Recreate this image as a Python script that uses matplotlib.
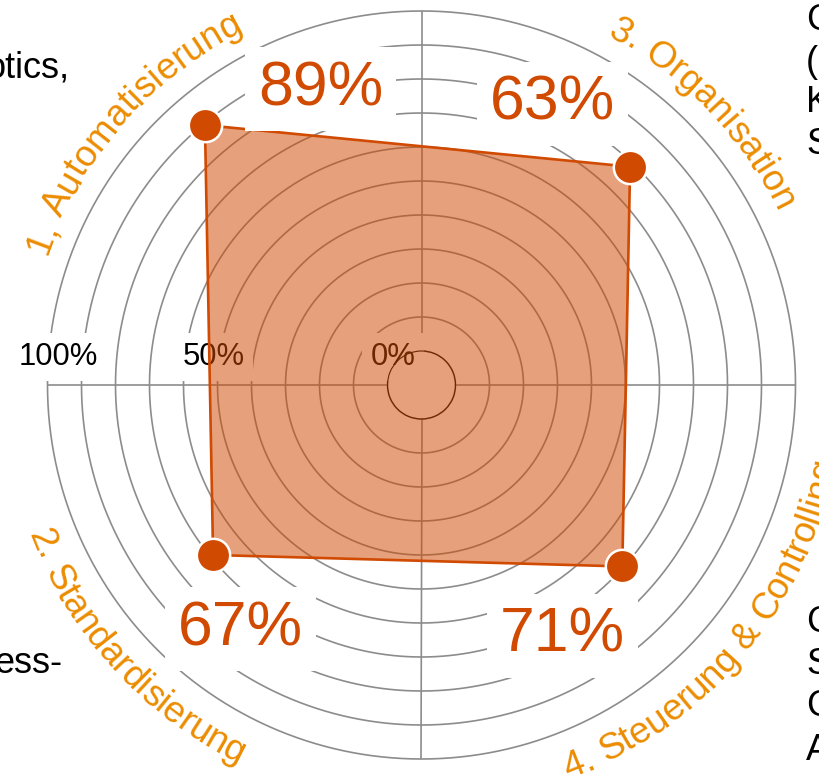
import numpy as np
import matplotlib
matplotlib.use("Agg")
import matplotlib.pyplot as plt
from matplotlib.font_manager import FontProperties, findfont, get_font

# ---------------- data ----------------
categories = ["1, Automatisierung", "2. Standardisierung",
              "3. Organisation", "4. Steuerung & Controlling"]
value_labels = ["89%", "67%", "63%", "71%"]
# marker positions as drawn in the picture (angle in degrees, value on the 0-100 scale)
point_angles_deg = [129.8, 219.2, 46.3, 317.9]
point_values = [89.5, 69.1, 78.8, 69.6]
ring_values = [0, 10, 20, 30, 40, 50, 60, 70, 80, 90, 100]
axis_tick_labels = ["100%", "50%", "0%"]
axis_angles_deg = [0, 90, 180, 270]

# ---------------- style / layout ----------------
FONT = "Liberation Sans"
W, H, DPI = 820, 774, 100
ORANGE = "#D04A02"
LABEL_ORANGE = "#EB8C00"
GRID = "#8c8c8c"
cx, cy, R_OUT = 421.5, 385.0, 374.0      # pixels (y from top)
ORIGIN = 10.0                              # rorigin offset in value units
PX_PER_UNIT = R_OUT / (100 + ORIGIN)

fig = plt.figure(figsize=(W / DPI, H / DPI), dpi=DPI)
fig.patch.set_facecolor("white")
ax = fig.add_axes([(cx - R_OUT) / W, (H - cy - R_OUT) / H, 2 * R_OUT / W, 2 * R_OUT / H],
                  projection="polar")
ax.set_rorigin(-ORIGIN)
ax.set_ylim(0, 100)
ax.set_xticks([])
ax.set_yticks([])
ax.grid(False)
for sp in ax.spines.values():
    sp.set_visible(False)
ax.patch.set_alpha(0)

# rings
theta_c = np.linspace(0, 2 * np.pi, 721)
for v in ring_values:
    ax.plot(theta_c, np.full_like(theta_c, v), color=GRID, lw=1.2, zorder=1,
            solid_capstyle="butt", clip_on=False)
# axis lines
for a in axis_angles_deg:
    ax.plot([np.radians(a), np.radians(a)], [0, 100], color=GRID, lw=1.2, zorder=1)

# axis labels (below the fill, with white background hiding rings)
axis_label_pos = [(58.0, 365.0), (213.3, 365.0), (393.0, 365.0)]
for s, (x, y) in zip(axis_tick_labels, axis_label_pos):
    ax.text(x / W, 1 - y / H, s, transform=fig.transFigure, ha="center", va="baseline",
            fontsize=22.3, family=FONT, color="black", zorder=2, clip_on=False,
            bbox=dict(boxstyle="square,pad=0.28", fc="white", ec="none"))

# polygon
order = np.argsort(point_angles_deg)
th = np.radians(np.array(point_angles_deg)[order])
rv = np.array(point_values)[order]
th_c = np.append(th, th[0])
rv_c = np.append(rv, rv[0])
ax.fill(th_c, rv_c, color=ORANGE, alpha=0.52, lw=0, zorder=3, clip_on=False)
ax.plot(th_c, rv_c, color=ORANGE, lw=1.9, zorder=4, clip_on=False)
ax.plot(np.radians(point_angles_deg), point_values, "o", ms=24, mfc=ORANGE,
        mec="white", mew=1.8, zorder=5, clip_on=False)

# value labels (center x, baseline y) in pixels
value_label_pos = [(320.5, 105.0), (240.5, 645.0), (552.5, 120.0), (562.5, 652.0)]
for s, (x, y) in zip(value_labels, value_label_pos):
    ax.text(x / W, 1 - y / H, s, transform=fig.transFigure, ha="center", va="baseline",
            fontsize=45, family=FONT, color=ORANGE, zorder=6, clip_on=False,
            bbox=dict(boxstyle="square,pad=0.2", fc="white", ec="none"))

# curved category labels
cat_fs = 26.6
fp = FontProperties(family=FONT, size=cat_fs)
ft = get_font(findfont(fp))
ft.set_size(cat_fs, DPI)

def advances(s):
    return [ft.load_char(ord(c)).linearHoriAdvance / 65536.0 for c in s]

# (mid angle deg, baseline radius px, top?)
cat_layout = [(138.8, 397.0, True), (222.5, 421.0, False),
              (43.9, 395.0, True), (320.0, 420.0, False)]
for s, (mid, rb, top) in zip(categories, cat_layout):
    adv = advances(s)
    total = sum(adv)
    cum = 0.0
    rd = rb / PX_PER_UNIT - ORIGIN
    for c, a in zip(s, adv):
        off = (cum + a / 2 - total / 2) / rb
        cum += a
        if top:
            t = np.radians(mid) - off
            rot = np.degrees(t) - 90
        else:
            t = np.radians(mid) + off
            rot = np.degrees(t) + 90
        if c == " ":
            continue
        ax.text(t, rd, c, ha="center", va="baseline", rotation=rot,
                rotation_mode="anchor", fontsize=cat_fs, family=FONT,
                color=LABEL_ORANGE, zorder=6, clip_on=False)

# cropped side texts
side_fs = 26
fig.text(70 / W, 1 - 77 / H, "otics,", ha="right", va="baseline", fontsize=side_fs,
         family=FONT, color="black")
fig.text(63 / W, 1 - 673 / H, "ess-", ha="right", va="baseline", fontsize=side_fs,
         family=FONT, color="black")
right_top = [("C", 30.5), ("(", 71.5), ("K", 112.5), ("S", 153.5)]
right_bot = [("C", 632.5), ("S", 673.5), ("C", 716.5), ("A", 759.5)]
for s, y in right_top + right_bot:
    fig.text(806 / W, 1 - y / H, s, ha="left", va="baseline", fontsize=side_fs,
             family=FONT, color="black")

fig.savefig("out.png", dpi=DPI, facecolor="white")
